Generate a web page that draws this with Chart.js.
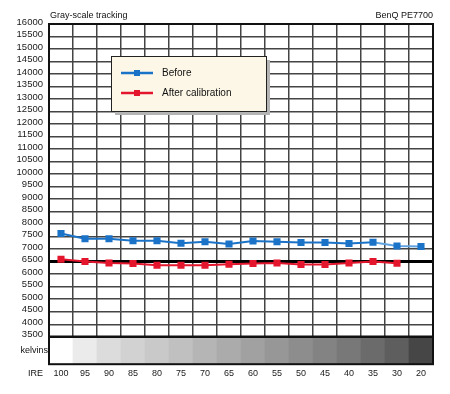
<!DOCTYPE html>
<html>
<head>
<meta charset="utf-8">
<script src="https://cdn.jsdelivr.net/npm/chart.js@4.4.1/dist/chart.umd.min.js"></script>
<style>
  html, body { margin: 0; padding: 0; background: #fff; }
  canvas { display: block; }
</style>
</head>
<body>
<canvas id="grayChart" width="450" height="394"></canvas>
<script>
// IRE steps along the bottom
const ire = ['100', '95', '90', '85', '80', '75', '70', '65', '60', '55', '50', '45', '40', '35', '30', '20'];

// colour temperature in kelvins
const before = [7630, 7420, 7420, 7340, 7340, 7240, 7300, 7210, 7330, 7300, 7270, 7270, 7230, 7280, 7130, 7110];
const afterCalibration = [6600, 6510, 6450, 6430, 6360, 6360, 6360, 6400, 6430, 6450, 6390, 6390, 6450, 6510, 6440, null];

// gray patch shown under each IRE step
const patchShades = ['#ffffff', '#ebebeb', '#dcdcdc', '#d2d2d2', '#c9c9c9', '#c0c0c0', '#b5b5b5', '#ababab',
  '#a1a1a1', '#979797', '#8d8d8d', '#838383', '#787878', '#6b6b6b', '#5e5e5e', '#464646'];

const targetK = 6500;
const font = 'Liberation Sans, Arial, sans-serif';

// title texts, frame and the axis captions
const decorations = {
  id: 'decorations',
  afterDraw(chart) {
    const { ctx, chartArea } = chart;
    const band = chart.scales.yb;
    ctx.save();
    ctx.fillStyle = '#111';
    ctx.font = '9px ' + font;
    ctx.textBaseline = 'middle';
    ctx.textAlign = 'left';
    ctx.fillText('Gray-scale tracking', chartArea.left + 1, 16);
    ctx.textAlign = 'right';
    ctx.fillText('BenQ PE7700', chartArea.right, 16);
    ctx.fillText('kelvins', chartArea.left - 1, (band.top + band.bottom) / 2);
    ctx.fillText('IRE', chartArea.left - 6, chartArea.bottom + 9.5);
    ctx.restore();
  },
  afterDatasetsDraw(chart) {
    const { ctx, chartArea } = chart;
    ctx.save();
    ctx.strokeStyle = '#111';
    ctx.lineWidth = 2;
    ctx.strokeRect(chartArea.left, chartArea.top, chartArea.right - chartArea.left, chartArea.bottom - chartArea.top);
    ctx.lineWidth = 2.5;
    ctx.beginPath();
    ctx.moveTo(chartArea.left, chart.scales.y.bottom);
    ctx.lineTo(chartArea.right, chart.scales.y.bottom);
    ctx.stroke();
    ctx.restore();
  }
};

// boxed legend sitting inside the plot
const boxLegend = {
  id: 'boxLegend',
  afterDraw(chart) {
    const { ctx, chartArea } = chart;
    const x = chartArea.left + 62, y = chartArea.top + 32, w = 155, h = 55;
    ctx.save();
    ctx.fillStyle = '#b4b4b4';
    ctx.fillRect(x + 4, y + 4, w, h);
    ctx.fillStyle = '#fdf7e7';
    ctx.fillRect(x, y, w, h);
    ctx.strokeStyle = '#222';
    ctx.lineWidth = 1;
    ctx.strokeRect(x + 0.5, y + 0.5, w, h);
    const items = chart.data.datasets.filter(d => d.type === 'line');
    items.forEach((d, i) => {
      const ly = y + 17 + i * 20;
      ctx.strokeStyle = d.borderColor;
      ctx.lineWidth = 2.5;
      ctx.beginPath();
      ctx.moveTo(x + 10, ly);
      ctx.lineTo(x + 42, ly);
      ctx.stroke();
      ctx.fillStyle = d.backgroundColor;
      ctx.fillRect(x + 23, ly - 3, 6, 6);
      ctx.fillStyle = '#111';
      ctx.font = '10px ' + font;
      ctx.textBaseline = 'middle';
      ctx.textAlign = 'left';
      ctx.fillText(d.label, x + 51, ly);
    });
    ctx.restore();
  }
};

new Chart(document.getElementById('grayChart'), {
  type: 'bar',
  data: {
    labels: ire,
    datasets: [
      {
        type: 'line',
        label: 'Before',
        data: before,
        yAxisID: 'y',
        borderColor: '#1b73c8',
        backgroundColor: '#1b73c8',
        borderWidth: 2,
        pointStyle: 'rect',
        pointRadius: 3.6,
        segment: {
          borderColor: c => c.p0DataIndex >= 13 ? '#5fa3e0' : undefined
        },
        order: 1
      },
      {
        type: 'line',
        label: 'After calibration',
        data: afterCalibration,
        yAxisID: 'y',
        borderColor: '#e3162d',
        backgroundColor: '#e3162d',
        borderWidth: 2,
        pointStyle: 'rect',
        pointRadius: 3.6,
        order: 0
      },
      {
        type: 'bar',
        label: 'kelvins',
        data: ire.map(() => 1),
        yAxisID: 'yb',
        backgroundColor: patchShades,
        borderWidth: 0,
        barPercentage: 1,
        categoryPercentage: 1,
        order: 5
      }
    ]
  },
  options: {
    responsive: false,
    devicePixelRatio: 1,
    animation: false,
    layout: { padding: { left: 15, right: 17, top: 24, bottom: 11 } },
    plugins: {
      legend: { display: false },
      title: { display: false },
      tooltip: { enabled: false }
    },
    scales: {
      x: {
        type: 'category',
        offset: true,
        grid: {
          offset: true,
          drawTicks: false,
          color: '#444',
          lineWidth: 1.5
        },
        border: { display: false },
        ticks: {
          autoSkip: false,
          maxRotation: 0,
          padding: 4,
          color: '#1a1a1a',
          font: { family: font, size: 9 }
        }
      },
      y: {
        type: 'linear',
        position: 'left',
        stack: 'kelvin',
        stackWeight: 313.5,
        weight: 2,
        min: 3500,
        max: 16000,
        grid: {
          drawTicks: false,
          color: c => c.tick && c.tick.value === targetK ? '#000' : '#444',
          lineWidth: c => c.tick && c.tick.value === targetK ? 3 : 1.5
        },
        border: { display: false },
        ticks: {
          stepSize: 500,
          autoSkip: false,
          padding: 6,
          labelOffset: -2,
          color: '#1a1a1a',
          font: { family: font, size: 9.5 },
          callback: v => String(v)
        },
        afterFit(scale) { scale.width = 34; }
      },
      yb: {
        type: 'linear',
        position: 'left',
        stack: 'kelvin',
        stackWeight: 27.5,
        weight: 1,
        min: 0,
        max: 1,
        offset: false,
        grid: { display: false },
        border: { display: false },
        ticks: { display: false },
        afterFit(scale) { scale.width = 34; }
      }
    }
  },
  plugins: [decorations, boxLegend]
});
</script>
</body>
</html>
